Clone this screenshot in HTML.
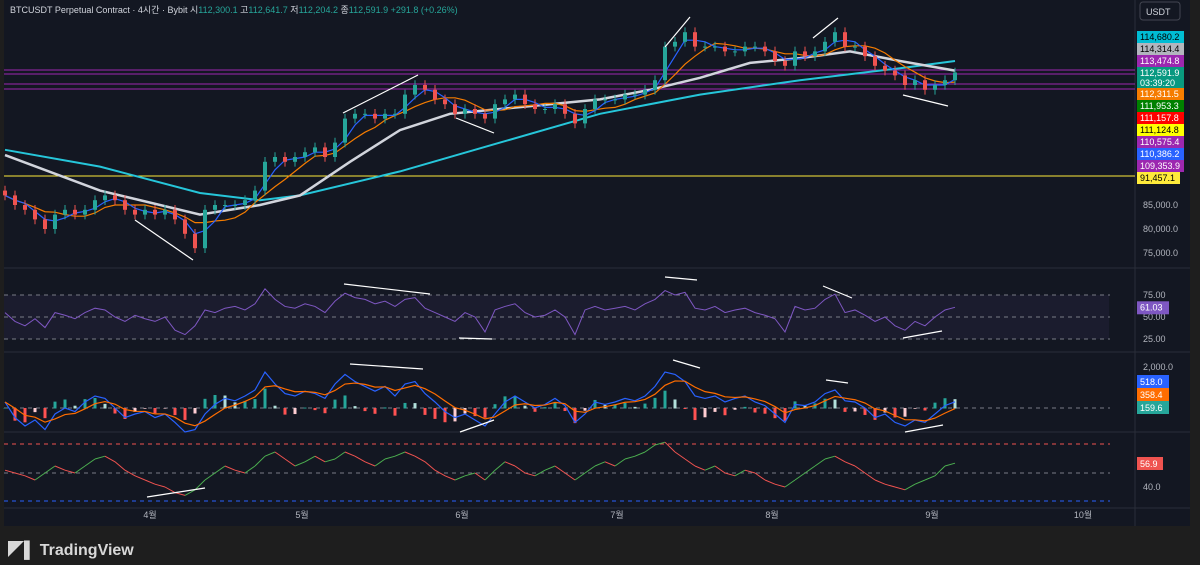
<!DOCTYPE html>
<html><head><meta charset="utf-8">
<style>
body{margin:0;width:1200px;height:565px;background:#1e1e1e;overflow:hidden;font-family:"Liberation Sans","Noto Sans CJK KR",sans-serif;}
svg{position:absolute;left:0;top:0}
</style></head><body>
<svg id="c" width="1200" height="565">
<rect x="4" y="0" width="1188" height="526" fill="#131722"/>
<rect x="1190" y="0" width="10" height="526" fill="#1e1e1e"/>
<text x="10" y="13" fill="#d1d4dc" font-size="9">BTCUSDT Perpetual Contract · 4시간 · Bybit <tspan fill="#d1d4dc">시</tspan><tspan fill="#26a69a">112,300.1</tspan> <tspan fill="#d1d4dc">고</tspan><tspan fill="#26a69a">112,641.7</tspan> <tspan fill="#d1d4dc">저</tspan><tspan fill="#26a69a">112,204.2</tspan> <tspan fill="#d1d4dc">종</tspan><tspan fill="#26a69a">112,591.9 +291.8 (+0.26%)</tspan></text>
<rect x="1140" y="2" width="40" height="18" rx="3" fill="#131722" stroke="#434651"/>
<text x="1146" y="15" fill="#d1d4dc" font-size="9">USDT</text>
<g id="g"></g>
<text x="8" y="555" fill="#d8d8d8" font-size="16" font-weight="bold">◤▌ TradingView</text>
</svg>
<script>
const closes=[87,85,84,82,80,83,84,83,84,86,87,86,84,83,84,83,84,82,79,76,84,85,85,85,86,88,94,95,94,95,96,97,95,98,103,104,104,103,104,104,108,110,109,107,106,104,105,104,103,106,107,108,106,105,105,106,104,102,105,107,107,107,108,108,109,111,118,119,121,118,118,118,117,117,118,118,117,115,114,117,116,117,119,121,118,118,116,114,113,112,110,111,109,110,111,112.6];
const cyanX=[5,100,200,260,300,400,500,600,700,800,900,955];
const cyanV=[96.5,93,87.5,86,87,92,98,104,108,111,113.5,115];
const whiteX=[5,100,200,260,300,350,400,450,500,550,600,650,700,750,800,850,900,955];
const whiteV=[95.4,88,83,85,87,94,100.6,104,105,106,107,109,111.5,114.6,115.6,117,115,113];
const rsi=[55,45,40,48,38,55,52,48,55,60,58,50,45,52,48,45,50,35,30,40,58,55,60,62,58,65,82,70,62,60,65,62,55,68,77,72,70,65,68,62,70,72,60,55,50,45,55,50,33,58,62,65,55,50,52,58,50,30,58,62,58,60,62,58,65,70,80,75,78,60,58,62,55,58,60,55,52,48,33,62,58,60,70,76,55,58,52,45,50,40,35,45,40,50,58,61];
const macd=[5,-8,-15,-10,-18,-5,0,-3,5,10,8,0,-8,-5,-3,-8,-5,-12,-20,-18,-5,3,8,6,10,15,30,20,12,10,14,12,8,20,28,22,18,14,18,10,20,22,12,5,-3,-8,-5,-10,-15,-5,5,10,5,0,3,8,2,-12,-5,5,3,5,8,6,10,18,30,28,22,10,8,10,5,8,10,5,2,-5,-12,3,2,5,12,15,6,5,0,-8,-5,-12,-15,-10,-12,-5,2,5.18];
const osc=[52,50,48,45,50,55,52,50,55,60,62,58,52,48,45,42,40,36,34,38,45,50,55,52,50,55,62,65,60,55,58,62,58,60,65,62,58,55,60,62,65,62,58,52,48,45,48,50,45,52,58,55,50,48,52,55,50,45,50,55,58,55,60,62,65,70,72,65,60,55,52,55,50,48,52,50,45,42,40,45,50,55,60,62,58,55,50,45,42,40,38,42,45,48,55,57];
const months=["4월","5월","6월","7월","8월","9월","10월"];
const monthX=[150,302,462,617,772,932,1083];
const priceTicks=[85000,80000,75000];
const tags=[["114,680.2","#00bcd4","#000"],["114,314.4","#b2b5be","#000"],["113,474.8","#9c27b0","#fff"],["112,591.9","#089981","#fff"],["112,311.5","#f57c00","#fff"],["111,953.3","#008000","#fff"],["111,157.8","#ff0000","#fff"],["111,124.8","#ffff00","#000"],["110,575.4","#9c27b0","#fff"],["110,386.2","#2962ff","#fff"],["109,353.9","#9c27b0","#fff"],["91,457.1","#ffeb3b","#000"]];

const g=document.getElementById('g');const NS="http://www.w3.org/2000/svg";
function el(t,a,p){const e=document.createElementNS(NS,t);for(const k in a)e.setAttribute(k,a[k]);(p||g).appendChild(e);return e;}
const X=i=>5+i*10;
const PY=p=>253-(p-75)*4.8;
const RY=v=>339-(v-25)*0.88;
const MY=v=>408-v*1.2;
const OY=v=>473-(v-50)*1.4;
[268,352,432,508].forEach(y=>{const l=el('line',{x1:4,x2:1190,y1:y,y2:y,stroke:'#2a2e39'});});
el('line',{x1:1135,x2:1135,y1:0,y2:526,stroke:'#2a2e39'});
[[70,'#9c27b0'],[74,'#9c27b0'],[84,'#9c27b0'],[89,'#9c27b0'],[176,'#ffeb3b']].forEach(h=>{const l=el('line',{x1:4,x2:1135,y1:h[0],y2:h[0],stroke:h[1],'stroke-width':1});});
function path(pts,c,w,name){const e=el('path',{d:'M'+pts.map(p=>p[0]+','+p[1]).join('L'),fill:'none',stroke:c,'stroke-width':w});return e;}
path(cyanX.map((x,i)=>[x,PY(cyanV[i])]),'#26c6da',2,'ma-cyan');
path(whiteX.map((x,i)=>[x,PY(whiteV[i])]),'#d1d4dc',2.5,'ma-white');
function sma(a,n){return a.map((v,i)=>{const s=a.slice(Math.max(0,i-n+1),i+1);return s.reduce((p,q)=>p+q,0)/s.length;});}
path(sma(closes,6).map((v,i)=>[X(i),PY(v)]),'#f57c00',1.2,'ma-orange');
path(sma(closes,3).map((v,i)=>[X(i),PY(v)]),'#2962ff',1.2,'ma-blue');
closes.forEach((c,i)=>{const o=i?closes[i-1]:c+1;const up=c>=o;const col=up?'#26a69a':'#ef5350';
 const hi=Math.max(o,c)+1,lo=Math.min(o,c)-1;
 const w=el('line',{x1:X(i),x2:X(i),y1:PY(hi),y2:PY(lo),stroke:col});
 const r=el('rect',{x:X(i)-2,y:PY(Math.max(o,c)),width:4,height:Math.max(1,Math.abs(PY(o)-PY(c))),fill:col});});
priceTicks.forEach(p=>{const t=el('text',{x:1143,y:PY(p/1000)+3,fill:'#b2b5be','font-size':9});t.textContent=p.toLocaleString('en-US')+'.0';});
let ty=31;tags.forEach((t,i)=>{const h=i==3?21:12;const r=el('rect',{x:1137,y:ty,width:i==11?43:47,height:h,fill:t[1]});
 const tx=el('text',{x:1140,y:ty+9,fill:t[2],'font-size':9});tx.textContent=t[0];
 if(i==3){const t2=el('text',{x:1140,y:ty+19,fill:'#fff','font-size':9});t2.textContent='03:39:20';}
 ty+=h;});
const band=el('rect',{x:4,y:RY(75),width:1105,height:RY(25)-RY(75),fill:'#7e57c2','fill-opacity':0.08});
[75,50,25].forEach(v=>{const l=el('line',{x1:4,x2:1110,y1:RY(v),y2:RY(v),stroke:'#787b86','stroke-dasharray':'4 4'});
 const t=el('text',{x:1143,y:RY(v)+3,fill:'#b2b5be','font-size':9});t.textContent=v+'.00';});
path(rsi.map((v,i)=>[X(i),RY(v)]),'#7e57c2',1,'rsi-line');
let r1=el('rect',{x:1137,y:RY(61.03)-6,width:32,height:13,fill:'#7e57c2'});
let t1=el('text',{x:1140,y:RY(61.03)+3,fill:'#fff','font-size':9});t1.textContent='61.03';
const sig=[];macd.forEach((v,i)=>sig.push(i?sig[i-1]+(v-sig[i-1])*0.4:v));
let zl=el('line',{x1:4,x2:1110,y1:MY(0),y2:MY(0),stroke:'#787b86','stroke-dasharray':'4 4'});
macd.forEach((v,i)=>{const h=v-sig[i];const prev=i?macd[i-1]-sig[i-1]:h;const col=h>=0?(h>=prev?'#26a69a':'#b2dfdb'):(h<prev?'#ff5252':'#ffcdd2');
 const r=el('rect',{x:X(i)-1.5,y:Math.min(MY(0),MY(h*1.3)),width:3,height:Math.abs(MY(h*1.3)-MY(0))+0.5,fill:col});});
path(macd.map((v,i)=>[X(i),MY(v)]),'#2962ff',1.2,'macd-line');
path(sig.map((v,i)=>[X(i),MY(v)]),'#ff6d00',1.2,'signal-line');
let mt=el('text',{x:1143,y:370,fill:'#b2b5be','font-size':9});mt.textContent='2,000.0';
[['518.0','#2962ff',375],['358.4','#ff6d00',388],['159.6','#26a69a',401]].forEach(a=>{const r=el('rect',{x:1137,y:a[2],width:32,height:13,fill:a[1]});
 const t=el('text',{x:1140,y:a[2]+10,fill:'#fff','font-size':9});t.textContent=a[0];});
[[444,'#ef5350'],[473,'#787b86'],[501,'#2962ff']].forEach(a=>{const l=el('line',{x1:4,x2:1110,y1:a[0],y2:a[0],stroke:a[1],'stroke-dasharray':'4 4'});});
osc.forEach((v,i)=>{if(!i)return;const l=el('line',{x1:X(i-1),y1:OY(osc[i-1]),x2:X(i),y2:OY(v),stroke:v>=osc[i-1]?'#4caf50':'#ef5350','stroke-width':1});});
let or=el('rect',{x:1137,y:457,width:26,height:13,fill:'#ef5350'});
let ot=el('text',{x:1140,y:467,fill:'#fff','font-size':9});ot.textContent='56.9';
let o4=el('text',{x:1143,y:490,fill:'#b2b5be','font-size':9});o4.textContent='40.0';
[[135,220,193,260],[343,113,418,75],[456,118,494,133],[665,47,690,17],[813,38,838,18],[903,95,948,106],[344,284,430,294],[459,338,492,339],[665,277,697,280],[823,286,852,298],[903,338,942,331],[350,364,423,369],[460,432,494,420],[673,360,700,368],[826,380,848,383],[905,432,943,425],[147,497,205,488]].forEach(a=>{const l=el('line',{x1:a[0],y1:a[1],x2:a[2],y2:a[3],stroke:'#fff','stroke-width':1.2});});
months.forEach((m,i)=>{const t=el('text',{x:monthX[i],y:518,fill:'#b2b5be','font-size':9,'text-anchor':'middle'});t.textContent=m;});
</script>
</body></html>
